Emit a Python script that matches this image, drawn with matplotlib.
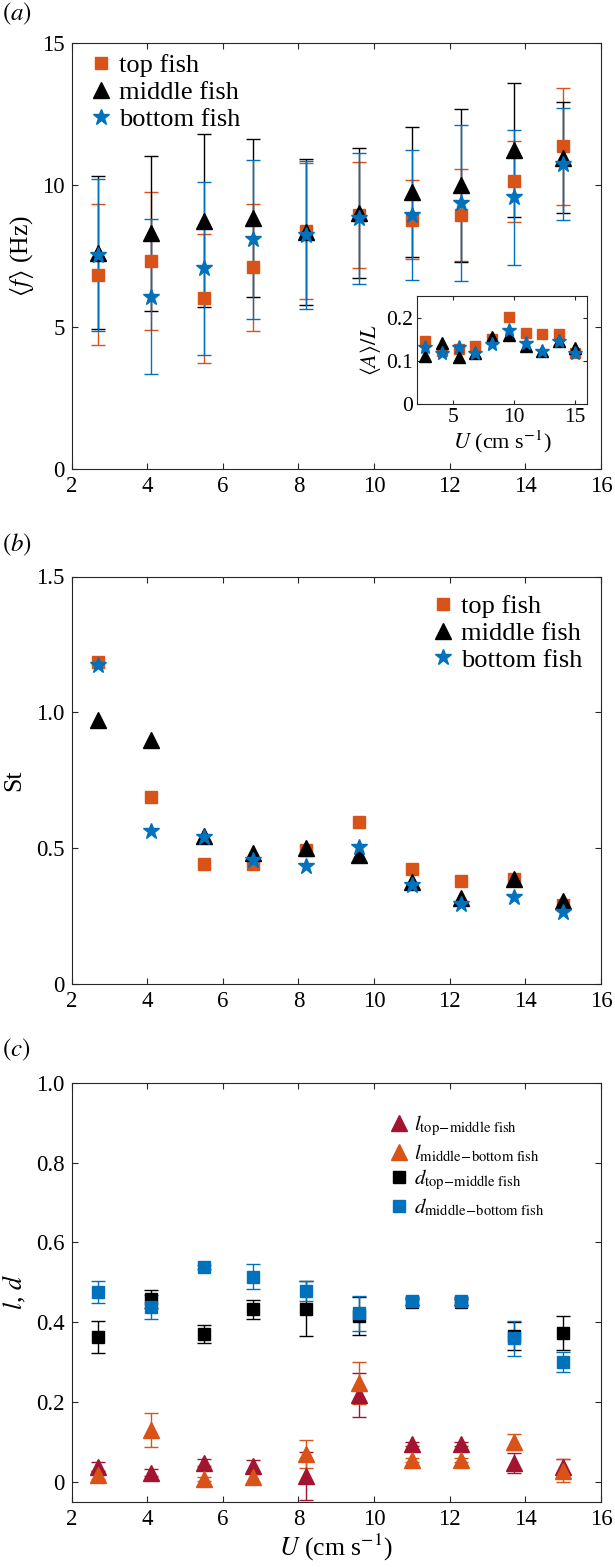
import matplotlib
matplotlib.use("Agg")
import matplotlib.pyplot as plt

plt.rcParams['font.family'] = ['Liberation Serif', 'DejaVu Serif']
plt.rcParams['mathtext.fontset'] = 'stix'
plt.rcParams['axes.linewidth'] = 0.8

# ---------------- data ----------------
U = [2.7, 4.1, 5.5, 6.8, 8.2, 9.6, 11.0, 12.3, 13.7, 15.0]

# (a) mean tail-beat frequency (Hz)
f_top = [6.84, 7.32, 6.01, 7.10, 8.38, 8.95, 8.78, 8.94, 10.13, 11.37]
f_top_err = [2.48, 2.42, 2.28, 2.23, 2.40, 1.86, 1.40, 1.63, 1.42, 2.06]
f_mid = [7.61, 8.30, 8.74, 8.83, 8.34, 9.02, 9.75, 9.99, 11.24, 10.96]
f_mid_err = [2.69, 2.72, 3.05, 2.78, 2.56, 2.28, 2.30, 2.70, 2.35, 1.96]
f_bot = [7.53, 6.07, 7.06, 8.09, 8.24, 8.83, 8.94, 9.37, 9.56, 10.74]
f_bot_err = [2.67, 2.72, 3.05, 2.80, 2.60, 2.30, 2.30, 2.75, 2.37, 1.96]

# inset: amplitude / length
A_top = [0.146, 0.123, 0.127, 0.135, 0.150, 0.201, 0.165, 0.163, 0.163, 0.118]
A_mid = [0.111, 0.142, 0.108, 0.118, 0.156, 0.160, 0.135, 0.123, 0.146, 0.130]
A_bot = [0.132, 0.119, 0.131, 0.119, 0.138, 0.172, 0.142, 0.123, 0.146, 0.117]

# (b) Strouhal number
St_top = [1.186, 0.690, 0.442, 0.442, 0.494, 0.598, 0.424, 0.380, 0.386, 0.290]
St_mid = [0.974, 0.900, 0.545, 0.482, 0.500, 0.475, 0.377, 0.316, 0.386, 0.306]
St_bot = [1.174, 0.565, 0.543, 0.457, 0.436, 0.506, 0.365, 0.294, 0.321, 0.266]

# (c) lateral / longitudinal spacing
l_tm = [0.038, 0.023, 0.048, 0.040, 0.015, 0.217, 0.094, 0.094, 0.046, 0.036]
l_tm_err = [0.012, 0.008, 0.008, 0.015, 0.060, 0.055, 0.005, 0.005, 0.025, 0.020]
l_mb = [0.017, 0.130, 0.006, 0.011, 0.069, 0.247, 0.054, 0.054, 0.100, 0.028]
l_mb_err = [0.010, 0.043, 0.005, 0.015, 0.035, 0.053, 0.005, 0.005, 0.020, 0.028]
d_tm = [0.362, 0.458, 0.370, 0.432, 0.434, 0.415, 0.450, 0.450, 0.365, 0.372]
d_tm_err = [0.040, 0.023, 0.023, 0.024, 0.070, 0.047, 0.008, 0.008, 0.035, 0.043]
d_mb = [0.476, 0.439, 0.539, 0.514, 0.478, 0.422, 0.452, 0.452, 0.359, 0.301]
d_mb_err = [0.027, 0.030, 0.005, 0.031, 0.025, 0.044, 0.010, 0.010, 0.044, 0.025]

labels_fish = ['top fish', 'middle fish', 'bottom fish']
labels_c = [r'$l_{\mathrm{top\!-\!middle\ fish}}$',
            r'$l_{\mathrm{middle\!-\!bottom\ fish}}$',
            r'$d_{\mathrm{top\!-\!middle\ fish}}$',
            r'$d_{\mathrm{middle\!-\!bottom\ fish}}$']

ORANGE = '#D95319'
BLUE = '#0072BD'
DARKRED = '#A2142F'
BLACK = 'black'
SPINE = '#262626'

W, H = 615, 1567
fig = plt.figure(figsize=(W / 100, H / 100), dpi=100)


def px_axes(left, top, right, bottom):
    return fig.add_axes([left / W, 1 - bottom / H, (right - left) / W, (bottom - top) / H])


def style(ax, size=16.5):
    ax.tick_params(direction='in', top=True, right=True, length=4, width=0.8,
                   labelsize=size, pad=5, colors=SPINE, labelcolor='black')
    for s in ax.spines.values():
        s.set_color(SPINE)


xt = [2, 4, 6, 8, 10, 12, 14, 16]

# ---------------- (a) ----------------
axa = px_axes(71.5, 43, 601, 469)
ekw = dict(fmt='none', elinewidth=1.0, capsize=5, capthick=1.0)
axa.errorbar(U, f_top, yerr=f_top_err, ecolor=ORANGE, **ekw)
axa.errorbar(U, f_mid, yerr=f_mid_err, ecolor=BLACK, **ekw)
axa.errorbar(U, f_bot, yerr=f_bot_err, ecolor=BLUE, **ekw)
h1, = axa.plot(U, f_top, 's', color=ORANGE, ms=8, mec=ORANGE, ls='none')
h2, = axa.plot(U, f_mid, '^', color=BLACK, ms=12, ls='none')
h3, = axa.plot(U, f_bot, '*', color=BLUE, ms=12, ls='none')
axa.set_xlim(2, 16)
axa.set_ylim(0, 15)
axa.set_xticks(xt)
axa.set_yticks([0, 5, 10, 15])
style(axa)
axa.set_ylabel(r'$\langle f\rangle$ (Hz)', fontsize=18.5, labelpad=4)
axa.legend([h1, h2, h3], labels_fish, loc='upper left', frameon=False, fontsize=19,
           handlelength=0.8, handletextpad=0.3, labelspacing=0.13,
           borderaxespad=0.2, bbox_to_anchor=(0.005, 1.012))
fig.text(2 / W, 1 - 14 / H, r'$(a)$', fontsize=18, va='center', ha='left')

# inset
axi = px_axes(416.7, 296, 587.3, 404)
axi.plot(U, A_top, 's', color=ORANGE, ms=6.5, ls='none')
axi.plot(U, A_mid, '^', color=BLACK, ms=9, ls='none')
axi.plot(U, A_bot, '*', color=BLUE, ms=10, ls='none')
axi.set_xlim(2, 16)
axi.set_ylim(0, 0.25)
axi.set_xticks([5, 10, 15])
axi.set_yticks([0, 0.1, 0.2])
axi.set_yticklabels(['0', '0.1', '0.2'])
style(axi, size=15.5)
axi.tick_params(length=3, pad=3)
axi.set_ylabel(r'$\langle A\rangle/L$', fontsize=16, labelpad=2)
axi.set_xlabel(r'$U$ (cm s$^{-1}$)', fontsize=16, labelpad=1)

# ---------------- (b) ----------------
axb = px_axes(71.5, 576.5, 601, 984.3)
g1, = axb.plot(U, St_top, 's', color=ORANGE, ms=8, ls='none')
g2, = axb.plot(U, St_mid, '^', color=BLACK, ms=12, ls='none')
g3, = axb.plot(U, St_bot, '*', color=BLUE, ms=12, ls='none')
axb.set_xlim(2, 16)
axb.set_ylim(0, 1.5)
axb.set_xticks(xt)
axb.set_yticks([0, 0.5, 1.0, 1.5])
axb.set_yticklabels(['0', '0.5', '1.0', '1.5'])
style(axb)
axb.set_ylabel('St', fontsize=18.5, labelpad=8)
axb.legend([g1, g2, g3], labels_fish, loc='upper right', frameon=False, fontsize=19,
           handlelength=0.8, handletextpad=0.3, labelspacing=0.13,
           borderaxespad=0.2, bbox_to_anchor=(0.995, 0.995))
fig.text(2 / W, 1 - 545 / H, r'$(b)$', fontsize=18, va='center', ha='left')

# ---------------- (c) ----------------
axc = px_axes(71.5, 1082.7, 601, 1501.7)
axc.errorbar(U, l_tm, yerr=l_tm_err, ecolor=DARKRED, **ekw)
axc.errorbar(U, l_mb, yerr=l_mb_err, ecolor=ORANGE, **ekw)
axc.errorbar(U, d_tm, yerr=d_tm_err, ecolor=BLACK, **ekw)
axc.errorbar(U, d_mb, yerr=d_mb_err, ecolor=BLUE, **ekw)
k1, = axc.plot(U, l_tm, '^', color=DARKRED, ms=12, ls='none')
k2, = axc.plot(U, l_mb, '^', color=ORANGE, ms=12, ls='none')
k3, = axc.plot(U, d_tm, 's', color=BLACK, ms=8.5, ls='none')
k4, = axc.plot(U, d_mb, 's', color=BLUE, ms=8.5, ls='none')
axc.set_xlim(2, 16)
axc.set_ylim(-0.05, 1.0)
axc.set_xticks(xt)
axc.set_yticks([0, 0.2, 0.4, 0.6, 0.8, 1.0])
axc.set_yticklabels(['0', '0.2', '0.4', '0.6', '0.8', '1.0'])
style(axc)
axc.set_ylabel(r'$l$, $d$', fontsize=18.5, labelpad=6)
axc.set_xlabel(r'$U$ (cm s$^{-1}$)', fontsize=18.5, labelpad=2)
axc.legend([k1, k2, k3, k4], labels_c, loc='upper left', frameon=False, fontsize=15,
           handlelength=0.9, handletextpad=0.3, labelspacing=0.2,
           bbox_to_anchor=(0.565, 0.97))
fig.text(2 / W, 1 - 1050 / H, r'$(c)$', fontsize=18, va='center', ha='left')

fig.savefig('out.png', dpi=100)
